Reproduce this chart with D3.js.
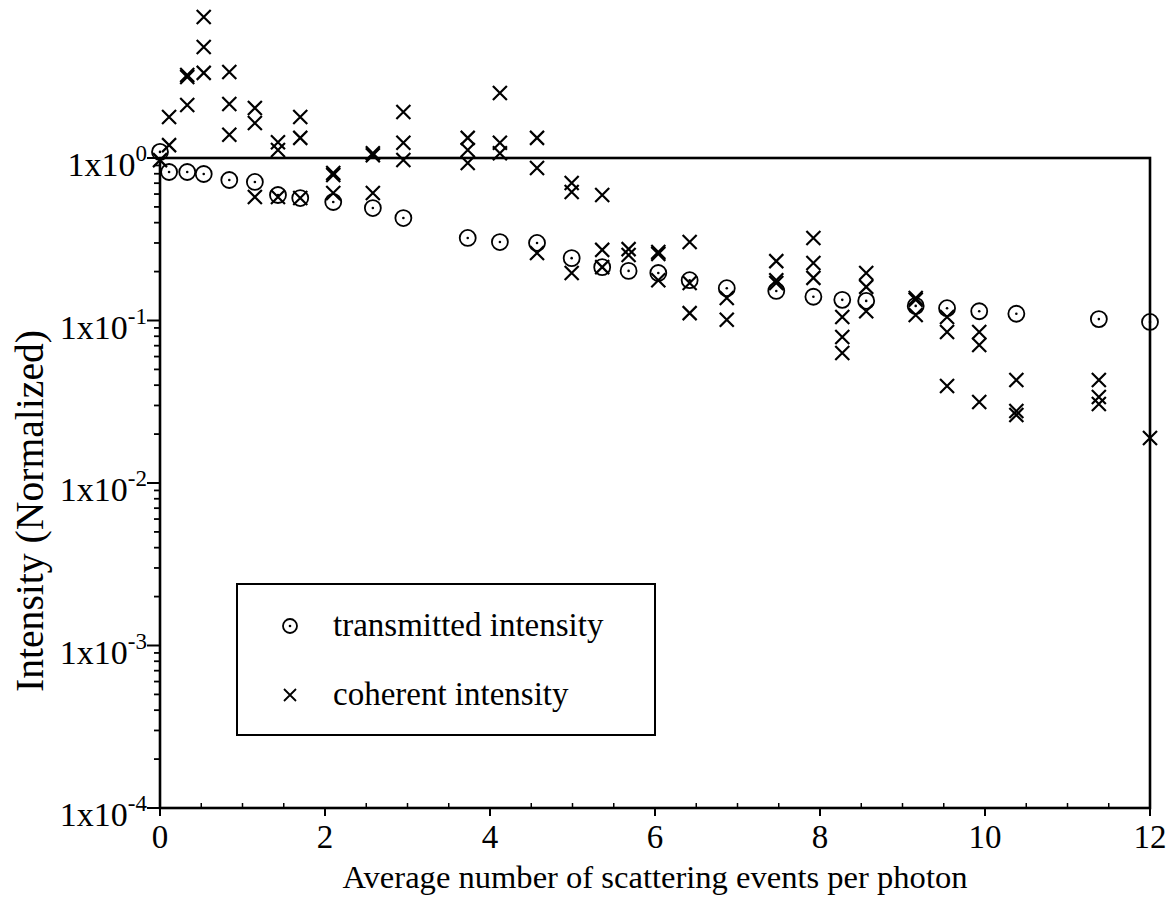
<!DOCTYPE html>
<html>
<head>
<meta charset="utf-8">
<script src="https://cdn.jsdelivr.net/npm/d3@7"></script>
<style>
  body { margin: 0; background: #fff; }
  text { font-family: "Liberation Serif", "Times New Roman", serif; fill: #000; }
</style>
</head>
<body>
<svg id="chart" width="1171" height="900"></svg>
<script>
// Transmitted intensity (circles)
const transX = [0, 0.11, 0.33, 0.53, 0.84, 1.15, 1.43, 1.70, 2.10, 2.58, 2.95, 3.73, 4.12, 4.57, 4.99,
  5.36, 5.68, 6.04, 6.42, 6.87, 7.47, 7.92, 8.27, 8.56, 9.16, 9.54, 9.93, 10.38, 11.38, 12];
const transY = [1.09, 0.82, 0.82, 0.797, 0.732, 0.712, 0.592, 0.567, 0.536, 0.492, 0.427, 0.322, 0.304, 0.300, 0.242,
  0.213, 0.202, 0.196, 0.177, 0.158, 0.152, 0.140, 0.134, 0.132, 0.123, 0.119, 0.114, 0.110, 0.102, 0.098];

// Coherent intensity (crosses)
const coherentX = [0, 0.11, 0.11, 0.33, 0.33, 0.33, 0.53, 0.53, 0.53, 0.84, 0.84, 0.84,
  1.15, 1.15, 1.15, 1.43, 1.43, 1.43, 1.70, 1.70, 1.70, 2.10, 2.10, 2.10, 2.58, 2.58, 2.58,
  2.95, 2.95, 2.95, 3.73, 3.73, 3.73, 4.12, 4.12, 4.12, 4.57, 4.57, 4.57, 4.99, 4.99, 4.99,
  5.36, 5.36, 5.36, 5.68, 5.68, 6.04, 6.04, 6.04, 6.42, 6.42, 6.42, 6.87, 6.87,
  7.47, 7.47, 7.47, 7.92, 7.92, 7.92, 8.27, 8.27, 8.27, 8.56, 8.56, 8.56, 9.16, 9.16, 9.16,
  9.54, 9.54, 9.54, 9.93, 9.93, 9.93, 10.38, 10.38, 10.38, 11.38, 11.38, 11.38, 12];
const coherentY = [0.97, 1.79, 1.20, 3.24, 3.15, 2.12, 7.37, 4.82, 3.34, 3.38, 2.15, 1.39,
  2.03, 1.64, 0.575, 1.25, 1.12, 0.575, 1.79, 1.33, 0.567, 0.809, 0.786, 0.609, 1.07, 1.04, 0.609,
  1.92, 1.24, 0.972, 1.33, 1.12, 0.932, 2.51, 1.24, 1.07, 1.33, 0.868, 0.260, 0.702, 0.618, 0.196,
  0.592, 0.272, 0.213, 0.275, 0.253, 0.264, 0.257, 0.177, 0.304, 0.170, 0.111, 0.1375, 0.101,
  0.232, 0.177, 0.170, 0.322, 0.226, 0.183, 0.105, 0.0791, 0.0631, 0.196, 0.161, 0.114, 0.1375, 0.134, 0.108,
  0.105, 0.085, 0.0395, 0.085, 0.0707, 0.0315, 0.043, 0.0277, 0.0262, 0.043, 0.0338, 0.0306, 0.0189];

const xTicks = [0, 2, 4, 6, 8, 10, 12];
const xMinorTicks = d3.range(0.5, 12, 0.5).filter(v => v % 2 !== 0);
const yExponents = [0, -1, -2, -3, -4];
const legendLabels = ["transmitted intensity", "coherent intensity"];
const xTitle = "Average number of scattering events per photon";
const yTitle = "Intensity (Normalized)";

const svg = d3.select("#chart");
const plot = { left: 160, right: 1150, top: 158, bottom: 808 };

const x = d3.scaleLinear().domain([0, 12]).range([plot.left, plot.right]);
const y = d3.scaleLog().domain([1e-4, 1]).range([plot.bottom, plot.top]);

// Frame
svg.append("rect")
  .attr("x", plot.left).attr("y", plot.top)
  .attr("width", plot.right - plot.left).attr("height", plot.bottom - plot.top)
  .attr("fill", "none").attr("stroke", "#000").attr("stroke-width", 2.6);

// Y axis: decade ticks plus minor ticks, pointing outward
const minorY = [];
for (let e = -4; e < 0; e++) for (let m = 2; m <= 9; m++) minorY.push(m * Math.pow(10, e));
svg.append("g").selectAll("line").data(minorY).join("line")
  .attr("x1", plot.left - 6).attr("x2", plot.left)
  .attr("y1", d => y(d)).attr("y2", d => y(d))
  .attr("stroke", "#000").attr("stroke-width", 1.8);
svg.append("g").selectAll("line").data(yExponents).join("line")
  .attr("x1", plot.left - 13).attr("x2", plot.left)
  .attr("y1", d => y(Math.pow(10, d))).attr("y2", d => y(Math.pow(10, d)))
  .attr("stroke", "#000").attr("stroke-width", 2);

const yLab = svg.append("g").selectAll("text").data(yExponents).join("text")
  .attr("x", 147).attr("y", d => y(Math.pow(10, d)) + 18)
  .attr("text-anchor", "end").style("font-size", "34px");
yLab.append("tspan").text("1x10");
yLab.append("tspan").attr("dy", -15).style("font-size", "23px").text(d => String(d));

// X axis ticks and labels
svg.append("g").selectAll("line").data(xTicks).join("line")
  .attr("x1", d => x(d)).attr("x2", d => x(d))
  .attr("y1", plot.bottom).attr("y2", plot.bottom + 8)
  .attr("stroke", "#000").attr("stroke-width", 2);
svg.append("g").selectAll("line").data(xMinorTicks).join("line")
  .attr("x1", d => x(d)).attr("x2", d => x(d))
  .attr("y1", plot.bottom).attr("y2", plot.bottom - 5)
  .attr("stroke", "#000").attr("stroke-width", 1.5);
svg.append("g").selectAll("text").data(xTicks).join("text")
  .attr("x", d => x(d)).attr("y", 848)
  .attr("text-anchor", "middle").style("font-size", "33px")
  .text(d => d);

// Axis titles
svg.append("text")
  .attr("x", 655).attr("y", 888)
  .attr("text-anchor", "middle").style("font-size", "31px")
  .attr("textLength", 625).attr("lengthAdjust", "spacingAndGlyphs")
  .text(xTitle);
svg.append("text")
  .attr("transform", "translate(43,511) rotate(-90)")
  .attr("text-anchor", "middle").style("font-size", "40px")
  .attr("textLength", 362).attr("lengthAdjust", "spacingAndGlyphs")
  .text(yTitle);

// Markers
function circleMark(g, cx, cy, r) {
  g.append("circle").attr("cx", cx).attr("cy", cy).attr("r", r)
    .attr("fill", "none").attr("stroke", "#000").attr("stroke-width", 1.8);
  g.append("circle").attr("cx", cx).attr("cy", cy).attr("r", 1.3).attr("fill", "#000");
}
function crossMark(g, cx, cy, s, w) {
  g.append("path")
    .attr("d", `M${cx - s},${cy - s}L${cx + s},${cy + s}M${cx - s},${cy + s}L${cx + s},${cy - s}`)
    .attr("stroke", "#000").attr("stroke-width", w).attr("fill", "none");
}

const marks = svg.append("g");
transX.forEach((v, i) => circleMark(marks, x(v), y(transY[i]), 8));
coherentX.forEach((v, i) => crossMark(marks, x(v), y(coherentY[i]), 7, 2.2));

// Legend
const leg = svg.append("g");
leg.append("rect").attr("x", 237).attr("y", 584).attr("width", 418).attr("height", 151)
  .attr("fill", "#fff").attr("stroke", "#000").attr("stroke-width", 2);
const legendY = [626, 695];
circleMark(leg, 290, legendY[0], 7);
crossMark(leg, 290, legendY[1], 6, 1.8);
leg.selectAll("text").data(legendLabels).join("text")
  .attr("x", 333).attr("y", (d, i) => legendY[i] + 10)
  .style("font-size", "33px").text(d => d);
</script>
</body>
</html>
